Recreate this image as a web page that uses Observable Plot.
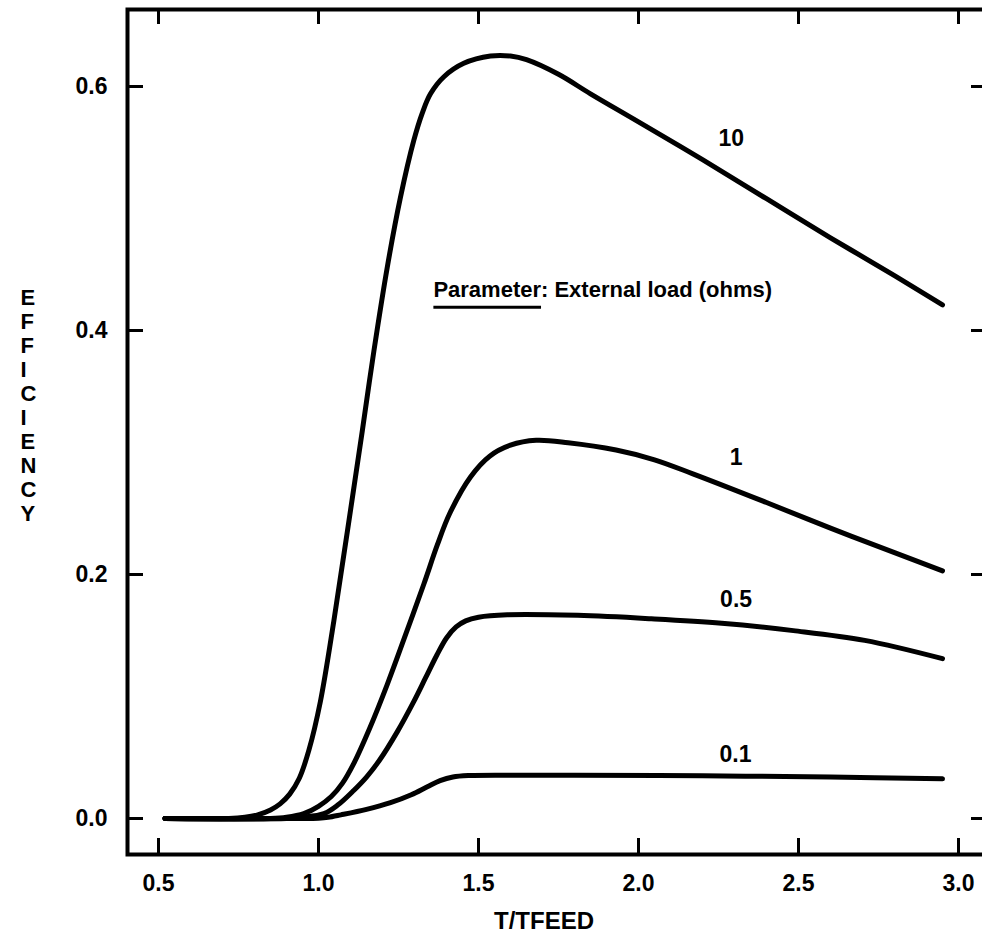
<!DOCTYPE html>
<html>
<head>
<meta charset="utf-8">
<script src="https://cdn.jsdelivr.net/npm/d3@7"></script>
<script src="https://cdn.jsdelivr.net/npm/@observablehq/plot@0.6"></script>
<style>
  html, body { margin: 0; padding: 0; background: #fff; }
  #chart { width: 982px; height: 943px; }
</style>
</head>
<body>
<div id="chart"></div>
<script>
// Axis ticks
const xTicks = [0.5, 1.0, 1.5, 2.0, 2.5, 3.0];
const yTicks = [0.0, 0.2, 0.4, 0.6];

// Efficiency vs. T/TFEED for each external load (ohms)
const t10   = [0.52, 0.72, 0.77, 0.81, 0.85, 0.88, 0.91, 0.94, 0.97, 1.006, 1.048, 1.09, 1.137, 1.173, 1.215, 1.256, 1.298, 1.324, 1.35, 1.392, 1.454, 1.5375, 1.60, 1.65, 1.75, 1.85, 2.0, 2.2, 2.4, 2.6, 2.8, 2.95];
const eff10 = [0.0, 0.0, 0.001, 0.003, 0.007, 0.012, 0.020, 0.033, 0.056, 0.096, 0.162, 0.235, 0.318, 0.383, 0.452, 0.509, 0.556, 0.578, 0.594, 0.608, 0.619, 0.625, 0.625, 0.622, 0.610, 0.594, 0.571, 0.540, 0.508, 0.476, 0.445, 0.421];

const t1    = [0.52, 0.85, 0.90, 0.954, 1.0, 1.04, 1.075, 1.11, 1.16, 1.215, 1.267, 1.329, 1.371, 1.41, 1.475, 1.535, 1.60, 1.68, 1.78, 1.93, 2.05, 2.17, 2.40, 2.60, 2.80, 2.95];
const eff1  = [0.0, 0.0, 0.001, 0.004, 0.010, 0.018, 0.029, 0.045, 0.074, 0.110, 0.147, 0.192, 0.224, 0.250, 0.280, 0.297, 0.306, 0.310, 0.308, 0.302, 0.294, 0.2825, 0.259, 0.238, 0.218, 0.203];

const t05   = [0.52, 0.90, 0.95, 1.017, 1.06, 1.11, 1.15, 1.19, 1.246, 1.298, 1.334, 1.37, 1.40, 1.43, 1.46, 1.50, 1.59, 1.81, 2.04, 2.26, 2.484, 2.707, 2.95];
const eff05 = [0.0, 0.0, 0.001, 0.004, 0.011, 0.023, 0.034, 0.0475, 0.071, 0.096, 0.115, 0.134, 0.148, 0.157, 0.162, 0.165, 0.167, 0.1665, 0.1637, 0.160, 0.154, 0.146, 0.131];

const t01   = [0.52, 0.95, 1.0, 1.03, 1.07, 1.15, 1.225, 1.29, 1.34, 1.38, 1.42, 1.47, 1.60, 1.80, 2.20, 2.60, 2.95];
const eff01 = [0.0, 0.0, 0.0003, 0.001, 0.003, 0.0075, 0.013, 0.0195, 0.026, 0.031, 0.034, 0.0352, 0.0355, 0.0355, 0.035, 0.034, 0.0325];

// Curve annotations
const loadNames = ["10", "1", "0.5", "0.1"];
const labelT    = [2.29, 2.305, 2.305, 2.303];
const labelEff  = [0.557, 0.296, 0.179, 0.052];

// Parameter note
const noteKey  = "Parameter";
const noteRest = ": External load (ohms)";
const noteT    = [1.359];
const noteEff  = [0.433];

const xLabel = "T/TFEED";
const yLabel = "EFFICIENCY";

const series = [
  {load: "10",  t: t10, eff: eff10},
  {load: "1",   t: t1,  eff: eff1},
  {load: "0.5", t: t05, eff: eff05},
  {load: "0.1", t: t01, eff: eff01}
];
const rows = series.flatMap(s => s.t.map((t, i) => ({load: s.load, t, eff: s.eff[i]})));
const labels = loadNames.map((name, i) => ({name, t: labelT[i], eff: labelEff[i]}));
const note = [{text: noteKey + noteRest, t: noteT[0], eff: noteEff[0]}];

const fmt = d3.format(".1f");

const svg = Plot.plot({
  width: 982,
  height: 943,
  marginLeft: 127,
  marginTop: 9,
  marginRight: -4,
  marginBottom: 89,
  style: {
    fontFamily: "'Liberation Sans', Arial, Helvetica, sans-serif",
    fontWeight: "bold",
    fontSize: "22px",
    color: "black",
    background: "white"
  },
  x: {domain: [0.5, 3.0], range: [158, 958]},
  y: {domain: [0.0, 0.6], range: [818, 86]},
  marks: [
    Plot.frame({stroke: "black", strokeWidth: 4}),
    // inward tick marks on all four sides
    Plot.axisX(xTicks, {anchor: "bottom", tickSize: 16, dy: -16, fill: "none", strokeWidth: 3, label: null}),
    Plot.axisX(xTicks, {anchor: "top", tickSize: 14, dy: 14, fill: "none", strokeWidth: 3, label: null}),
    Plot.axisY(yTicks, {anchor: "left", tickSize: 16, dx: 16, fill: "none", strokeWidth: 3, label: null}),
    Plot.axisY(yTicks, {anchor: "right", tickSize: 16, dx: -16, fill: "none", strokeWidth: 3, label: null}),
    // tick labels
    Plot.axisX(xTicks, {anchor: "bottom", tickSize: 0, tickPadding: 20, tickFormat: fmt, label: null, fontSize: 23}),
    Plot.axisY(yTicks, {anchor: "left", tickSize: 0, tickPadding: 20, tickFormat: fmt, label: null, fontSize: 23}),
    // axis titles
    Plot.text([xLabel], {frameAnchor: "bottom", dy: 74, dx: -13, text: d => d, fontSize: 24}),
    Plot.text([yLabel], {frameAnchor: "left", dx: -107, dy: -27, text: d => d.split("").join("\n"), lineHeight: 1.09, fontSize: 22}),
    // curves
    Plot.line(rows, {x: "t", y: "eff", z: "load", stroke: "black", strokeWidth: 5, curve: "catmull-rom", strokeLinecap: "round", strokeLinejoin: "round"}),
    Plot.text(labels, {x: "t", y: "eff", text: "name", fontSize: 23}),
    Plot.text(note, {x: "t", y: "eff", text: "text", textAnchor: "start", fontSize: 22})
  ]
});

document.getElementById("chart").appendChild(svg);

// underline the word "Parameter" in the note
d3.select(svg).selectAll("text")
  .filter(function() { return this.textContent === noteKey + noteRest; })
  .each(function() {
    const first = this.getExtentOfChar(0);
    const last = this.getExtentOfChar(noteKey.length - 1);
    const y = first.y + first.height + 5;
    d3.select(this.parentNode).append("line")
      .attr("transform", this.getAttribute("transform"))
      .attr("x1", first.x)
      .attr("x2", last.x + last.width)
      .attr("y1", y)
      .attr("y2", y)
      .attr("stroke", "black")
      .attr("stroke-width", 3);
  });
</script>
</body>
</html>
